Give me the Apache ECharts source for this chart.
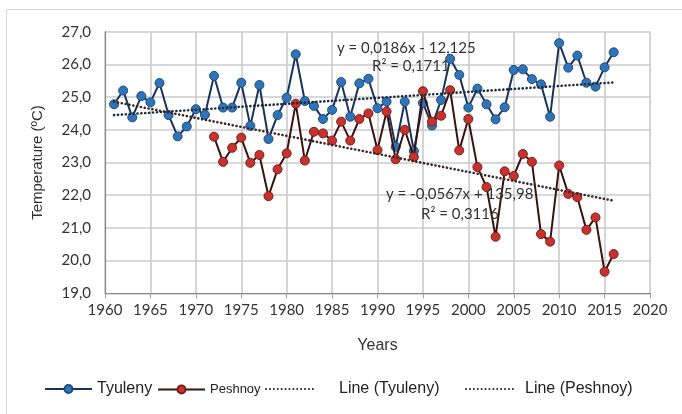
<!DOCTYPE html>
<html><head><meta charset="utf-8">
<script src="https://cdn.jsdelivr.net/npm/echarts@6/dist/echarts.min.js"></script>
<style>html,body{margin:0;padding:0;background:#fff}#c{width:682px;height:414px}</style>
</head><body><div id="c"></div>
<script>
const tyulenyYears = [1961,1962,1963,1964,1965,1966,1967,1968,1969,1970,1971,1972,1973,1974,1975,1976,1977,1978,1979,1980,1981,1982,1983,1984,1985,1986,1987,1988,1989,1990,1991,1992,1993,1994,1995,1996,1997,1998,1999,2000,2001,2002,2003,2004,2005,2006,2007,2008,2009,2010,2011,2012,2013,2014,2015,2016];
const tyuleny = [24.78,25.20,24.38,25.03,24.84,25.43,24.45,23.80,24.10,24.63,24.46,25.65,24.68,24.68,25.44,24.12,25.37,23.72,24.45,24.98,26.31,24.88,24.73,24.33,24.61,25.46,24.40,25.42,25.56,24.66,24.86,23.48,24.86,23.35,24.82,24.13,24.91,26.17,25.68,24.68,25.26,24.78,24.32,24.69,25.83,25.85,25.55,25.39,24.40,26.65,25.90,26.27,25.44,25.32,25.91,26.37];
const peshnoyYears = [1972,1973,1974,1975,1976,1977,1978,1979,1980,1981,1982,1983,1984,1985,1986,1987,1988,1989,1990,1991,1992,1993,1994,1995,1996,1997,1998,1999,2000,2001,2002,2003,2004,2005,2006,2007,2008,2009,2010,2011,2012,2013,2014,2015,2016];
const peshnoy = [23.79,23.02,23.45,23.76,22.99,23.23,21.97,22.79,23.28,24.80,23.06,23.94,23.89,23.67,24.25,23.67,24.33,24.50,23.38,24.56,23.10,24.00,23.17,25.18,24.25,24.43,25.21,23.37,24.33,22.86,22.25,20.73,22.73,22.59,23.26,23.02,20.81,20.58,22.91,22.04,21.94,20.94,21.32,19.66,20.20];
const trendYears = [1961, 2016];
const tyulenyTrend = [24.45, 25.45];
const peshnoyTrend = [24.86, 21.83];
const seriesNames = ['Tyuleny', 'Peshnoy', 'Line (Tyuleny)', 'Line (Peshnoy)'];
const tyulenyEq = ['y = 0,0186x - 12,125', 'R\u00B2 = 0,1711'];
const peshnoyEq = ['y = -0,0567x + 135,98', 'R\u00B2 = 0,3116'];

const pairs = (xs, ys) => xs.map((x, i) => [x, ys[i]]);
const chart = echarts.init(document.getElementById('c'), null, {renderer: 'canvas'});
const tickFont = 'Lato';
const arial = 'Liberation Sans';
const dotted = {type: [0.1, 3.8], cap: 'round', width: 2.6};
const noMarker = {color: 'rgba(0,0,0,0)', borderColor: 'rgba(0,0,0,0)', borderWidth: 0};

chart.setOption({
  animation: false,
  backgroundColor: '#fff',
  grid: {left: 105, right: 32, top: 31.7, bottom: 120.7, containLabel: false},
  xAxis: {
    type: 'value', min: 1960, max: 2020, interval: 5,
    name: 'Years', nameLocation: 'middle', nameGap: 44,
    nameTextStyle: {fontFamily: arial, fontSize: 16, color: '#333'},
    axisLine: {show: true, lineStyle: {color: '#8a8a8a', width: 1.2}},
    axisTick: {show: true, length: 5, lineStyle: {color: '#a0a0a0'}},
    axisLabel: {fontFamily: tickFont, fontSize: 15, color: '#333', margin: 9,
      formatter: v => String(v)},
    splitLine: {show: true, lineStyle: {color: '#cbcbcb', width: 1.6}}
  },
  yAxis: {
    type: 'value', min: 19, max: 27, interval: 1,
    name: 'Temperature (\u00BAC)', nameLocation: 'middle', nameGap: 60, nameRotate: 90,
    nameTextStyle: {fontFamily: arial, fontSize: 15, color: '#333'},
    axisLine: {show: true, lineStyle: {color: '#8a8a8a', width: 1.2}},
    axisTick: {show: false},
    axisLabel: {fontFamily: tickFont, fontSize: 15, color: '#333', margin: 14,
      formatter: v => v.toFixed(1).replace('.', ',')},
    splitLine: {show: true, lineStyle: {color: '#cbcbcb', width: 1.6}}
  },
  legend: [
    {data: [seriesNames[0]], left: 44, top: 381, padding: 0, itemWidth: 47, itemHeight: 10,
      textStyle: {fontFamily: arial, fontSize: 16, color: '#222'}},
    {data: [seriesNames[1]], left: 157, top: 383, padding: 0, itemWidth: 47, itemHeight: 10,
      textStyle: {fontFamily: arial, fontSize: 13, color: '#222'}},
    {data: [seriesNames[2]], left: 265, top: 381, padding: 0, itemWidth: 48, itemHeight: 10,
      itemStyle: noMarker,
      textStyle: {fontFamily: arial, fontSize: 16, color: '#222', padding: [0, 0, 0, 20]}},
    {data: [seriesNames[3]], left: 465, top: 381, padding: 0, itemWidth: 48, itemHeight: 10,
      itemStyle: noMarker,
      textStyle: {fontFamily: arial, fontSize: 16, color: '#222', padding: [0, 0, 0, 6]}}
  ],
  series: [
    {name: seriesNames[0], type: 'line', data: pairs(tyulenyYears, tyuleny),
      symbol: 'circle', symbolSize: 9, z: 3,
      lineStyle: {color: '#1a3358', width: 2},
      itemStyle: {color: '#2f74b8', borderColor: '#1f4e79', borderWidth: 1}},
    {name: seriesNames[1], type: 'line', data: pairs(peshnoyYears, peshnoy),
      symbol: 'circle', symbolSize: 9, z: 4,
      lineStyle: {color: '#3a1212', width: 2},
      itemStyle: {color: '#c6332e', borderColor: '#7d1a1a', borderWidth: 1}},
    {name: seriesNames[2], type: 'line', data: pairs(trendYears, tyulenyTrend),
      symbol: 'none', z: 5, itemStyle: noMarker,
      lineStyle: Object.assign({color: '#1e2a40'}, dotted)},
    {name: seriesNames[3], type: 'line', data: pairs(trendYears, peshnoyTrend),
      symbol: 'none', z: 5, itemStyle: noMarker,
      lineStyle: Object.assign({color: '#3a2626'}, dotted)}
  ],
  graphic: [
    {type: 'rect', silent: true, z: -10, shape: {x: 6.5, y: 9.5, width: 700, height: 420},
      style: {fill: null, stroke: '#d6d6d6', lineWidth: 1}},
    {type: 'text', left: 337, top: 41, z: 20, style: {text: tyulenyEq[0], font: '15px Lato', fill: '#333'}},
    {type: 'text', left: 372, top: 59, z: 20, style: {text: tyulenyEq[1], font: '15px Lato', fill: '#333'}},
    {type: 'text', left: 386, top: 187, z: 20, style: {text: peshnoyEq[0], font: '15px Lato', fill: '#333'}},
    {type: 'text', left: 421, top: 207, z: 20, style: {text: peshnoyEq[1], font: '15px Lato', fill: '#333'}}
  ]
});
</script>
</body></html>
